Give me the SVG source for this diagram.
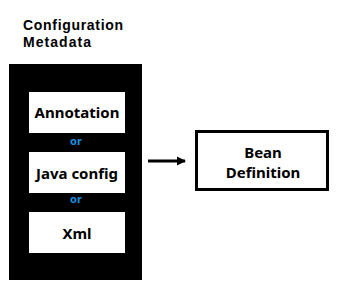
<svg xmlns="http://www.w3.org/2000/svg" width="339" height="287" viewBox="0 0 339 287">
<style>
text{font-family:"Noto Sans","Liberation Sans",sans-serif;font-weight:bold;fill:#000}
.t{font-family:"Liberation Sans",Arial,sans-serif;font-size:14px}
.l{font-size:15px;text-anchor:middle}
.or{font-size:11px;fill:#1a8fe0;text-anchor:middle}
.w{fill:#fff}
</style>
<defs>
<marker id="ah" markerWidth="10" markerHeight="10" refX="8" refY="5" orient="auto" markerUnits="userSpaceOnUse">
<path d="M0,0.5 L9,5 L0,9.5 Z" fill="#000"/>
</marker>
</defs>
<rect width="339" height="287" fill="#fff"/>
<g id="title">
<text class="t" x="23" y="30" textLength="100">Configuration</text>
<text class="t" x="23" y="47" textLength="68">Metadata</text>
</g>
<g id="config-metadata">
<rect x="9" y="64" width="133" height="216" fill="#000"/>
</g>
<g id="annotation">
<rect class="w" x="29" y="92" width="96" height="41"/>
<text class="l" x="77" y="118">Annotation</text>
</g>
<g id="or1"><text class="or" x="76" y="145">or</text></g>
<g id="java-config">
<rect class="w" x="29" y="152" width="96" height="41"/>
<text class="l" x="77" y="179">Java config</text>
</g>
<g id="or2"><text class="or" x="76" y="203">or</text></g>
<g id="xml">
<rect class="w" x="29" y="212" width="96" height="41"/>
<text class="l" x="77" y="239">Xml</text>
</g>
<g id="bean-definition">
<rect x="196.5" y="131.5" width="131" height="58" fill="#fff" stroke="#000" stroke-width="3"/>
<text class="l" x="263" y="158">Bean</text>
<text class="l" x="263" y="178">Definition</text>
</g>
<g id="connectors">
<line x1="148" y1="161" x2="185" y2="161" stroke="#000" stroke-width="3" marker-end="url(#ah)"/>
</g>
</svg>
